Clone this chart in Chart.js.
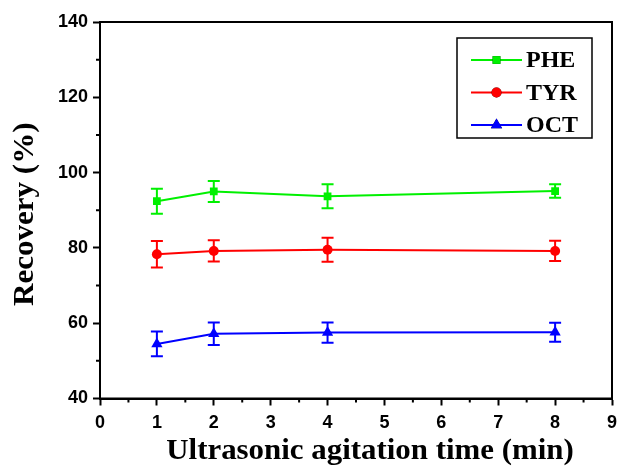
<!DOCTYPE html>
<html>
<head>
<meta charset="utf-8">
<script src="https://cdn.jsdelivr.net/npm/chart.js@4/dist/chart.umd.min.js"></script>
<style>
  html, body { margin: 0; padding: 0; background: #fff; }
  #wrap { width: 619px; height: 466px; position: relative; }
</style>
</head>
<body>
<div id="wrap"><canvas id="c"></canvas></div>
<script>
// data
const times = [1, 2, 4, 8];
const seriesNames = ['PHE', 'TYR', 'OCT'];
const pheValues = [92.4, 95.0, 93.7, 95.1];
const pheErrors = [3.3, 2.8, 3.2, 1.8];
const tyrValues = [78.3, 79.2, 79.5, 79.2];
const tyrErrors = [3.5, 2.8, 3.2, 2.7];
const octValues = [54.5, 57.2, 57.5, 57.6];
const octErrors = [3.3, 3.0, 2.7, 2.5];
const xTicks = [0, 1, 2, 3, 4, 5, 6, 7, 8, 9];
const yTicks = [40, 60, 80, 100, 120, 140];
const xTitle = 'Ultrasonic agitation time (min)';
const yTitle = 'Recovery (%)';

const colors = ['#00f000', '#ff0000', '#0000ff'];
const markers = ['rect', 'circle', 'triangle'];
const markerSize = [5.5, 5, 6.5];
const allValues = [pheValues, tyrValues, octValues];
const allErrors = [pheErrors, tyrErrors, octErrors];

const datasets = seriesNames.map((name, i) => ({
    label: name,
    data: times.map((t, j) => ({ x: t, y: allValues[i][j] })),
    errors: allErrors[i],
    borderColor: colors[i],
    backgroundColor: colors[i],
    borderWidth: 2,
    pointStyle: markers[i],
    pointRadius: markerSize[i],
    pointBorderWidth: 0,
    pointHoverRadius: markerSize[i],
    tension: 0,
}));

// error bars with caps
const errorBars = {
    id: 'errorBars',
    beforeDatasetsDraw(chart) {
        const ctx = chart.ctx;
        const xs = chart.scales.x, ys = chart.scales.y;
        chart.data.datasets.forEach(ds => {
            ctx.save();
            ctx.strokeStyle = ds.borderColor;
            ctx.lineWidth = 2;
            ds.data.forEach((p, j) => {
                const px = xs.getPixelForValue(p.x);
                const top = ys.getPixelForValue(p.y + ds.errors[j]);
                const bot = ys.getPixelForValue(p.y - ds.errors[j]);
                ctx.beginPath();
                ctx.moveTo(px, top); ctx.lineTo(px, bot);
                ctx.moveTo(px - 6, top); ctx.lineTo(px + 6, top);
                ctx.moveTo(px - 6, bot); ctx.lineTo(px + 6, bot);
                ctx.stroke();
            });
            ctx.restore();
        });
    }
};

// frame, minor ticks, axis titles and legend box
const frame = {
    id: 'frame',
    afterDraw(chart) {
        const ctx = chart.ctx;
        const a = chart.chartArea;
        const xs = chart.scales.x, ys = chart.scales.y;
        ctx.save();
        ctx.strokeStyle = '#000';
        ctx.lineWidth = 2;
        ctx.strokeRect(a.left, a.top, a.right - a.left, a.bottom - a.top);
        // minor ticks
        ctx.beginPath();
        for (let i = 0; i < xTicks.length - 1; i++) {
            const px = xs.getPixelForValue(xTicks[i] + 0.5);
            ctx.moveTo(px, a.bottom); ctx.lineTo(px, a.bottom + 4);
        }
        for (let i = 0; i < yTicks.length - 1; i++) {
            const py = ys.getPixelForValue(yTicks[i] + 10);
            ctx.moveTo(a.left, py); ctx.lineTo(a.left - 4, py);
        }
        ctx.stroke();

        // axis titles (the original font runs a bit wide)
        ctx.fillStyle = '#000';
        ctx.font = 'bold 29px "Liberation Serif"';
        ctx.textAlign = 'center';
        ctx.textBaseline = 'alphabetic';
        ctx.save();
        ctx.translate(370, 459);
        ctx.scale(1.065, 1);
        ctx.fillText(xTitle, 0, 0);
        ctx.restore();
        ctx.save();
        ctx.translate(33, (a.top + a.bottom) / 2 + 4);
        ctx.rotate(-Math.PI / 2);
        ctx.scale(1.07, 1);
        ctx.fillText(yTitle, 0, 0);
        ctx.restore();

        // legend
        const lx = 457, ly = 38, lw = 135, lh = 100;
        ctx.lineWidth = 1.5;
        ctx.strokeRect(lx, ly, lw, lh);
        ctx.textAlign = 'left';
        chart.data.datasets.forEach((ds, i) => {
            const cy = 60 + i * 32.5;
            ctx.strokeStyle = ds.borderColor;
            ctx.lineWidth = 2;
            ctx.beginPath();
            ctx.moveTo(471, cy); ctx.lineTo(522, cy);
            ctx.stroke();
            Chart.helpers.drawPoint(ctx, {
                pointStyle: ds.pointStyle, radius: ds.pointRadius, borderWidth: 0
            }, 496.5, cy);
            ctx.fillStyle = ds.backgroundColor;
            ctx.fill();
            ctx.fillStyle = '#000';
            ctx.font = 'bold 24px "Liberation Serif"';
            ctx.textBaseline = 'middle';
            ctx.fillText(ds.label, 526, cy + 1);
        });
        ctx.restore();
    }
};

new Chart(document.getElementById('c'), {
    type: 'line',
    data: { datasets },
    options: {
        responsive: true,
        maintainAspectRatio: false,
        animation: false,
        events: [],
        layout: { padding: { top: 22, right: 7, bottom: 0, left: 0 } },
        plugins: { legend: { display: false }, tooltip: { enabled: false } },
        scales: {
            x: {
                type: 'linear',
                min: 0, max: 9,
                afterBuildTicks(scale) { scale.ticks = xTicks.map(v => ({ value: v })); },
                afterFit(scale) {
                    scale.height = 67.5;
                    scale.paddingLeft = 0;
                    scale.paddingRight = 0;
                },
                grid: { drawOnChartArea: false, tickLength: 7, tickWidth: 2, tickColor: '#000' },
                border: { display: true, color: '#000', width: 2 },
                ticks: {
                    color: '#000', padding: 7, maxRotation: 0,
                    font: { family: '"Liberation Sans"', size: 18, weight: 'bold' }
                }
            },
            y: {
                min: 40, max: 140,
                afterBuildTicks(scale) { scale.ticks = yTicks.map(v => ({ value: v })); },
                afterFit(scale) {
                    scale.width = 100;
                    scale.paddingTop = 0;
                    scale.paddingBottom = 0;
                },
                grid: { drawOnChartArea: false, tickLength: 7, tickWidth: 2, tickColor: '#000' },
                border: { display: true, color: '#000', width: 2 },
                ticks: {
                    color: '#000', padding: 5,
                    font: { family: '"Liberation Sans"', size: 18, weight: 'bold' }
                }
            }
        }
    },
    plugins: [errorBars, frame]
});
</script>
</body>
</html>
